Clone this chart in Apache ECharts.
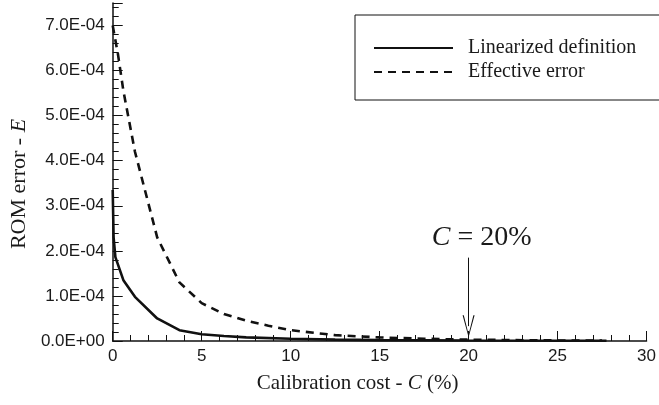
<!DOCTYPE html>
<html>
<head>
<meta charset="utf-8">
<script src="https://cdn.jsdelivr.net/npm/echarts@6/dist/echarts.min.js"></script>
<style>
  html, body { margin: 0; padding: 0; background: #fff; }
  #chart { width: 659px; height: 405px; }
</style>
</head>
<body>
<div id="chart"></div>
<script>
// calibration cost (%) samples
var costLin = [0, 0.05, 0.15, 0.6, 1.25, 2.5, 3.75, 5, 6.25, 7.5, 10, 12.5, 15, 20, 25, 27.75];
var errLin  = [3.35e-4, 2.3e-4, 1.86e-4, 1.35e-4, 0.98e-4, 0.5e-4, 0.24e-4, 0.15e-4, 0.11e-4, 0.08e-4, 0.05e-4, 0.03e-4, 0.02e-4, 0.01e-4, 0.006e-4, 0.004e-4];

var costEff = [0, 0.3, 0.6, 1.25, 2.5, 3.75, 5, 6.25, 7.5, 8.75, 10, 12.5, 15, 17.5, 20, 22.5, 25, 27.5];
var errEff  = [7.0e-4, 6.35e-4, 5.55e-4, 4.2e-4, 2.3e-4, 1.3e-4, 0.84e-4, 0.6e-4, 0.45e-4, 0.34e-4, 0.24e-4, 0.13e-4, 0.08e-4, 0.05e-4, 0.03e-4, 0.02e-4, 0.012e-4, 0.008e-4];

var seriesNames = ['Linearized definition', 'Effective error'];

// annotation arrow at C = 20%
var markCost = 20;
var arrowFrom = 1.85e-4;
var arrowTo = 0.33e-4;

function pairs(xs, ys) {
    var out = [];
    for (var i = 0; i < xs.length; i++) out.push([xs[i], ys[i]]);
    return out;
}

// 7.0E-04 style labels
function sciLabel(v) {
    if (Math.abs(v) < 1e-12) return '0.0E+00';
    var s = v.toExponential(1).toUpperCase();
    var parts = s.split('E');
    var sign = parts[1].charAt(0);
    var e = parts[1].slice(1);
    if (e.length < 2) e = '0' + e;
    return parts[0] + 'E' + sign + e;
}

var ink = '#111';
var txt = '#1a1a1a';
var serif = '"Liberation Serif", "DejaVu Serif", serif';
var sans = '"Liberation Sans", Arial, sans-serif';

var chart = echarts.init(document.getElementById('chart'));
chart.setOption({
    animation: false,
    backgroundColor: '#fff',
    grid: { left: 109, right: 10, top: 3, bottom: 64 },
    legend: {
        orient: 'vertical',
        left: 355,
        top: 15,
        data: seriesNames,
        itemWidth: 79,
        itemHeight: 14,
        itemGap: 4,
        padding: [23, 120, 18, 18],
        borderColor: ink,
        borderWidth: 1,
        selectedMode: false,
        // hide the dot in the middle of the legend line
        itemStyle: { opacity: 0 },
        textStyle: { fontFamily: serif, fontSize: 20, color: txt, padding: [0, 0, 0, 10] }
    },
    xAxis: {
        type: 'value',
        min: 0,
        max: 30,
        interval: 5,
        name: 'Calibration cost - {i|C} (%)',
        nameLocation: 'middle',
        nameGap: 32,
        nameTextStyle: {
            fontFamily: serif, fontSize: 21, color: txt, padding: [0, 44, 0, 0],
            rich: { i: { fontFamily: serif, fontStyle: 'italic', fontSize: 21, color: txt } }
        },
        axisLine: { lineStyle: { color: ink, width: 1.5 } },
        axisTick: { inside: true, length: 10, lineStyle: { color: ink } },
        minorTick: { show: true, splitNumber: 5, length: 6, lineStyle: { color: ink } },
        axisLabel: { fontFamily: sans, fontSize: 17, color: txt, margin: 7 },
        splitLine: { show: false }
    },
    yAxis: {
        type: 'value',
        min: 0,
        max: 7.5e-4,
        interval: 1e-4,
        name: 'ROM error - {i|E}',
        nameLocation: 'middle',
        nameGap: 78,
        nameRotate: 90,
        nameTextStyle: {
            fontFamily: serif, fontSize: 22, color: txt, padding: [0, 24, 0, 0],
            rich: { i: { fontFamily: serif, fontStyle: 'italic', fontSize: 22, color: txt } }
        },
        axisLine: { lineStyle: { color: ink, width: 1.5 } },
        axisTick: { inside: true, length: 10, lineStyle: { color: ink } },
        minorTick: { show: true, splitNumber: 5, length: 6, lineStyle: { color: ink } },
        axisLabel: {
            fontFamily: sans, fontSize: 17, color: txt, margin: 8,
            showMaxLabel: false,
            formatter: sciLabel
        },
        splitLine: { show: false }
    },
    series: [
        {
            name: seriesNames[0],
            type: 'line',
            data: pairs(costLin, errLin),
            symbol: 'none',
            showSymbol: false,
            lineStyle: { color: ink, width: 2.6, type: 'solid' },
            itemStyle: { color: ink },
            z: 3,
            markLine: {
                silent: true,
                symbol: ['none', 'path://M0,22L5,0L10,22L9,22L5,3L1,22Z'],
                symbolSize: [12, 22],
                lineStyle: { color: ink, width: 1, type: 'solid' },
                label: {
                    show: true,
                    position: 'start',
                    distance: 6,
                    formatter: '{i|C} = 20%',
                    fontFamily: serif,
                    fontSize: 28,
                    color: txt,
                    padding: [0, 0, 0, 26],
                    rich: { i: { fontFamily: serif, fontStyle: 'italic', fontSize: 28, color: txt } }
                },
                data: [[
                    { coord: [markCost, arrowFrom] },
                    { coord: [markCost, arrowTo] }
                ]]
            }
        },
        {
            name: seriesNames[1],
            type: 'line',
            data: pairs(costEff, errEff),
            symbol: 'none',
            showSymbol: false,
            lineStyle: { color: ink, width: 2.6, type: [8, 6] },
            itemStyle: { color: ink },
            z: 2
        }
    ]
});
</script>
</body>
</html>
